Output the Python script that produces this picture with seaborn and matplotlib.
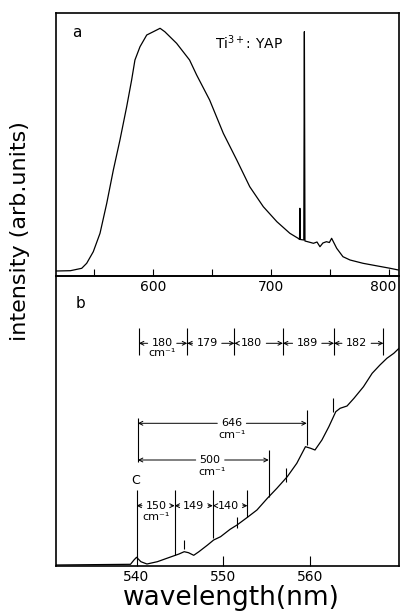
import matplotlib
matplotlib.use("Agg")
import matplotlib.pyplot as plt
import matplotlib.transforms as mtransforms
import seaborn as sns

# ---------------- data ----------------
# panel a: full luminescence band of Ti3+:YAP
a_wl = [518, 530, 539.6, 543.8, 549.4, 555.1, 560.8, 566.4, 572, 577.7,
        581.9, 584.7, 589, 594.7, 600.3, 606, 610, 620, 631, 637,
        648, 659.6, 671, 682, 693.5, 705, 716, 723, 724.2, 724.5,
        724.9, 727.8, 728.3, 728.8, 732, 736, 739, 741.5, 744, 747,
        749.5, 751.4, 755.7, 761, 767, 778, 789, 801, 808]
a_int = [5, 5.3, 7.7, 12.7, 24.3, 42.7, 72.7, 106, 136, 169.3,
         196, 216, 229.3, 241, 244.3, 247.7, 244.3, 232.7, 216, 201,
         176, 142.7, 116, 89.3, 69.3, 54.3, 42.7, 37.7, 36.5, 67.7,
         36.5, 36, 244.3, 35, 34, 32.7, 34, 29.3, 33, 34.3,
         33.5, 37.7, 27.7, 19.3, 16, 12.7, 10.3, 7.7, 6]

# panel b: zero-phonon region
b_wl = [530.7, 539.3, 539.7, 540, 540.5, 541.2, 542.4, 543.5, 544.9, 545.5,
        546, 546.6, 547.2, 548.2, 548.9, 549.7, 550.8, 551.6, 552.8, 553.9,
        555.1, 556.2, 557.4, 558.5, 559.5, 560.1, 560.6, 561.4, 562.2, 563,
        563.5, 564.3, 565.1, 566.2, 567.2, 568.1, 568.9, 569.7, 570.3]
b_int = [1, 1.7, 6, 8.7, 4.3, 2, 4.3, 7.7, 12, 14.3,
         13.3, 10.7, 14.3, 21, 26, 29.3, 36.7, 41, 48.7, 56,
         67.7, 77.7, 89.3, 102.7, 119.3, 117.7, 116, 126, 139.3, 154.3,
         157.7, 160, 167.7, 179.3, 192.7, 201, 207.7, 212.7, 217.7]

a_ticks = [550, 600, 650, 700, 750, 800]
a_ticklabels = ["", "600", "", "700", "", "800"]
b_ticks = [540, 550, 560]
b_ticklabels = ["540", "550", "560"]

# top row of spacings (cm-1)
top_bars = [540.27, 545.85, 551.3, 556.9, 562.8, 568.5]
top_labels = ["180", "179", "180", "189", "182"]
top_label_x = [542.96, 548.15, 553.3, 559.7, 565.4]

# bottom row of spacings (cm-1)
bot_bars = [540.0, 544.4, 548.8, 552.8]
bot_bar_low = [7.7, 11, 27.7, 49.3]
bot_labels = ["150", "149", "140"]
bot_label_x = [542.3, 546.6, 550.6]

# short marks on the curve
mark_x = [545.5, 551.6, 557.2, 562.7]
mark_lo = [16.7, 37.7, 84.3, 154.3]
mark_hi = [26, 49.3, 97.7, 167.7]

# ---------------- figure ----------------
sns.set_style("white")
plt.rcParams["font.family"] = ["DejaVu Sans"]
plt.rcParams["mathtext.fontset"] = "dejavusans"
plt.rcParams["text.color"] = "k"
plt.rcParams["axes.labelcolor"] = "k"
plt.rcParams["xtick.color"] = "k"
plt.rcParams["xtick.labelcolor"] = "k"

fig = plt.figure(figsize=(4.0, 6.14), dpi=100)
L, R = 56 / 400, 399 / 400
axb = fig.add_axes([L, 1 - 566 / 614, R - L, 290 / 614])
axa = fig.add_axes([L, 1 - 276 / 614, R - L, 263 / 614])
axa.set_zorder(3)
axa.patch.set_alpha(0)

sns.lineplot(x=a_wl, y=a_int, ax=axa, color="k", lw=0.9,
             estimator=None, sort=False)
sns.lineplot(x=b_wl, y=b_int, ax=axb, color="k", lw=0.9,
             estimator=None, sort=False)

axa.set_xlim(517.8, 808.5)
axa.set_ylim(0, 263)
axb.set_xlim(530.7, 570.3)
axb.set_ylim(0, 290)

for ax in (axa, axb):
    for s in ax.spines.values():
        s.set_color("k")
        s.set_linewidth(1.2)
    ax.set_yticks([])
    ax.set_xlabel("")
    ax.set_ylabel("")

axa.set_xticks(a_ticks)
axa.set_xticklabels(a_ticklabels)
axa.tick_params(axis="x", direction="in", length=5, width=0.8,
                labelsize=10, pad=3, bottom=True, colors="k")
# nudge the last label so it stays inside the picture
last = axa.get_xticklabels()[-1]
last.set_transform(last.get_transform() +
                   mtransforms.ScaledTranslation(-6 / 100, 0, fig.dpi_scale_trans))

axb.set_xticks(b_ticks)
axb.set_xticklabels(b_ticklabels)
axb.tick_params(axis="x", direction="in", length=7, width=0.8,
                labelsize=10, pad=3, bottom=True, colors="k")

# panel a texts
axa.text(0.06, 0.925, "a", transform=axa.transAxes, fontsize=11,
         ha="center", va="center", color="k")
axa.text(681, 233, r"Ti$^{3+}$: YAP", fontsize=10, ha="center", va="center",
         color="k")

# panel b texts
axb.text(533.5, 262.7, "b", fontsize=11, ha="center", va="center", color="k")

AP = dict(arrowstyle="->", lw=0.7, color="k", shrinkA=0.5, shrinkB=0,
          mutation_scale=7)
FS = 8


def arrow_label(ax, text, xc, y, xl, xr):
    ax.annotate(text, xy=(xl, y), xytext=(xc, y), ha="center", va="center",
                fontsize=FS, color="k", arrowprops=AP)
    ax.annotate(text, xy=(xr, y), xytext=(xc, y), ha="center", va="center",
                fontsize=FS, color=(0, 0, 0, 0), arrowprops=AP)


# top row
axb.vlines(top_bars, 211, 237.7, color="k", lw=0.8)
for i, lab in enumerate(top_labels):
    arrow_label(axb, lab, top_label_x[i], 222.7, top_bars[i], top_bars[i + 1])
axb.text(top_label_x[0], 213, "cm⁻¹", fontsize=FS, ha="center", va="center")

# 646 bracket
axb.vlines([540.15], 104.3, 147.7, color="k", lw=0.8)
axb.vlines([559.65], 121, 156, color="k", lw=0.8)
arrow_label(axb, "646", 551.0, 142.7, 540.15, 559.65)
axb.text(551.0, 131, "cm⁻¹", fontsize=FS, ha="center", va="center")

# 500 bracket
axb.vlines([555.26], 69.3, 116, color="k", lw=0.8)
arrow_label(axb, "500", 548.5, 106, 540.15, 555.26)
axb.text(548.7, 94.3, "cm⁻¹", fontsize=FS, ha="center", va="center")

# C label and bottom row
axb.text(539.9, 85.5, "C", fontsize=9, ha="center", va="center")
axb.vlines(bot_bars, bot_bar_low, 76, color="k", lw=0.8)
for i, lab in enumerate(bot_labels):
    arrow_label(axb, lab, bot_label_x[i], 60.3, bot_bars[i], bot_bars[i + 1])
axb.text(bot_label_x[0], 49.3, "cm⁻¹", fontsize=FS, ha="center", va="center")

# marks on the curve
axb.vlines(mark_x, mark_lo, mark_hi, color="k", lw=0.8)

# axis titles
fig.text(0.05, 1 - 231 / 614, "intensity (arb.units)", rotation=90,
         fontsize=16, ha="center", va="center", color="k")
fig.text(0.579, 0.014, "wavelength(nm)", fontsize=19, ha="center",
         va="baseline", color="k")

fig.savefig("out.png", dpi=100)
